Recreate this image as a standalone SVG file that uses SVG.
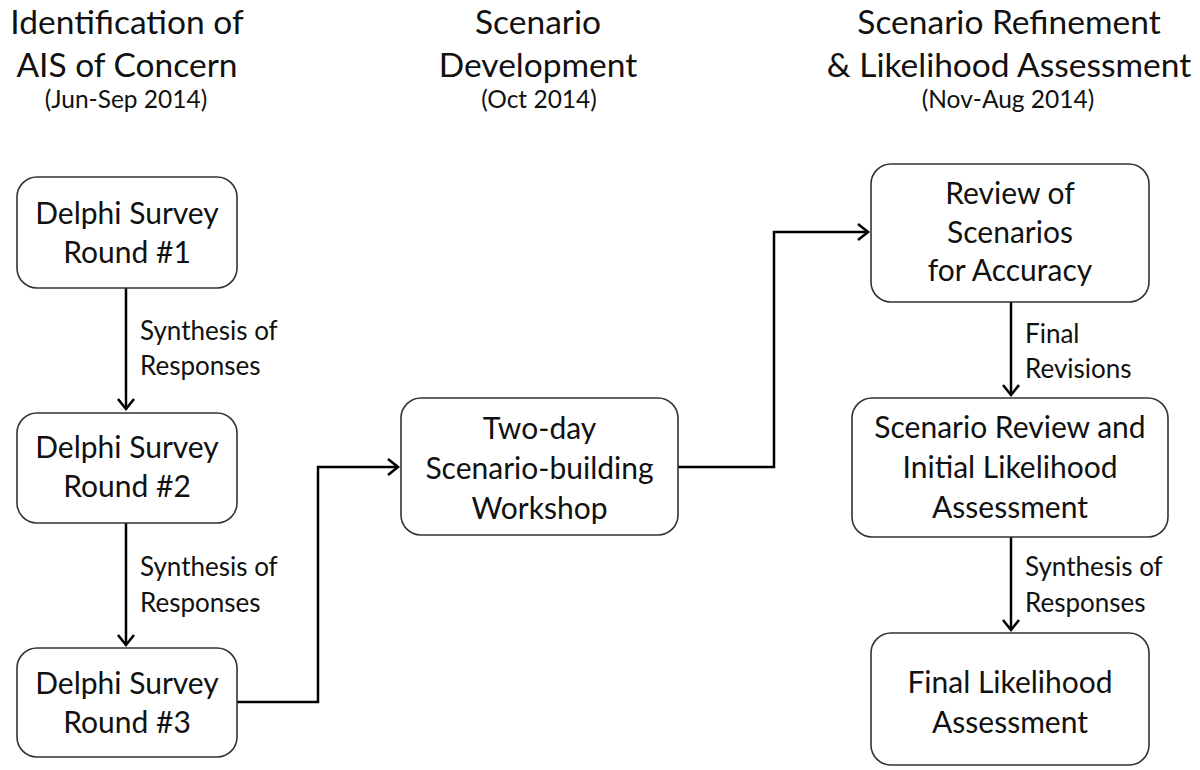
<svg xmlns="http://www.w3.org/2000/svg" width="1200" height="770" viewBox="0 0 1200 770">
  <style>
    text { font-family: Lato, "Liberation Sans", sans-serif; fill: #111; }
    .hd { font-size: 33.5px; text-anchor: middle; }
    .sub { font-size: 24.5px; text-anchor: middle; }
    .nt { font-size: 30px; text-anchor: middle; }
    .lb { font-size: 26px; }
    .box { fill: #fff; stroke: #333; stroke-width: 1.6; }
    .edge { fill: none; stroke: #000; stroke-width: 2.5; }
  </style>
  <defs>
    <marker id="arr" markerUnits="userSpaceOnUse" markerWidth="24" markerHeight="24" refX="12" refY="10" orient="auto" viewBox="0 0 24 20">
      <path d="M2,2 L12,10 L2,18" fill="none" stroke="#000" stroke-width="2.6"/>
    </marker>
  </defs>
  <rect width="1200" height="770" fill="#fff"/>

  <g id="headers">
    <text class="hd" x="127" y="34">Identification of</text>
    <text class="hd" x="127" y="77">AIS of Concern</text>
    <text class="sub" x="126" y="108">(Jun-Sep 2014)</text>
    <text class="hd" x="538" y="34">Scenario</text>
    <text class="hd" x="538" y="77">Development</text>
    <text class="sub" x="539" y="108">(Oct 2014)</text>
    <text class="hd" x="1009" y="34">Scenario Refinement</text>
    <text class="hd" x="1009" y="77">&amp; Likelihood Assessment</text>
    <text class="sub" x="1008" y="108">(Nov-Aug 2014)</text>
  </g>

  <g id="connectors">
    <path class="edge" d="M126,288 L126,409" marker-end="url(#arr)"/>
    <path class="edge" d="M126,523 L126,645" marker-end="url(#arr)"/>
    <path class="edge" d="M237,702 L318,702 L318,467 L398,467" marker-end="url(#arr)"/>
    <path class="edge" d="M678,467 L774,467 L774,232 L868,232" marker-end="url(#arr)"/>
    <path class="edge" d="M1011,302 L1011,395" marker-end="url(#arr)"/>
    <path class="edge" d="M1011,537 L1011,630" marker-end="url(#arr)"/>
    <text class="lb" x="140" y="340">Synthesis of</text>
    <text class="lb" x="140" y="375">Responses</text>
    <text class="lb" x="140" y="576">Synthesis of</text>
    <text class="lb" x="140" y="612">Responses</text>
    <text class="lb" x="1025" y="343">Final</text>
    <text class="lb" x="1025" y="378">Revisions</text>
    <text class="lb" x="1025" y="576">Synthesis of</text>
    <text class="lb" x="1025" y="612">Responses</text>
  </g>

  <g id="delphi1">
    <rect class="box" x="17" y="177" width="220" height="111" rx="20"/>
    <text class="nt" x="127" y="224">Delphi Survey</text>
    <text class="nt" x="127" y="263">Round #1</text>
  </g>
  <g id="delphi2">
    <rect class="box" x="17" y="413" width="220" height="110" rx="20"/>
    <text class="nt" x="127" y="458">Delphi Survey</text>
    <text class="nt" x="127" y="497">Round #2</text>
  </g>
  <g id="delphi3">
    <rect class="box" x="17" y="648" width="220" height="109" rx="20"/>
    <text class="nt" x="127" y="694">Delphi Survey</text>
    <text class="nt" x="127" y="733">Round #3</text>
  </g>
  <g id="workshop">
    <rect class="box" x="401" y="398" width="277" height="137" rx="20"/>
    <text class="nt" x="539.5" y="439">Two-day</text>
    <text class="nt" x="539.5" y="479">Scenario-building</text>
    <text class="nt" x="539.5" y="519">Workshop</text>
  </g>
  <g id="review">
    <rect class="box" x="871" y="164" width="278" height="138" rx="20"/>
    <text class="nt" x="1010" y="204">Review of</text>
    <text class="nt" x="1010" y="243">Scenarios</text>
    <text class="nt" x="1010" y="281">for Accuracy</text>
  </g>
  <g id="initial">
    <rect class="box" x="852" y="398" width="316" height="139" rx="20"/>
    <text class="nt" x="1010" y="438">Scenario Review and</text>
    <text class="nt" x="1010" y="478">Initial Likelihood</text>
    <text class="nt" x="1010" y="518">Assessment</text>
  </g>
  <g id="final">
    <rect class="box" x="871" y="633" width="278" height="132" rx="20"/>
    <text class="nt" x="1010" y="693">Final Likelihood</text>
    <text class="nt" x="1010" y="733">Assessment</text>
  </g>
</svg>
